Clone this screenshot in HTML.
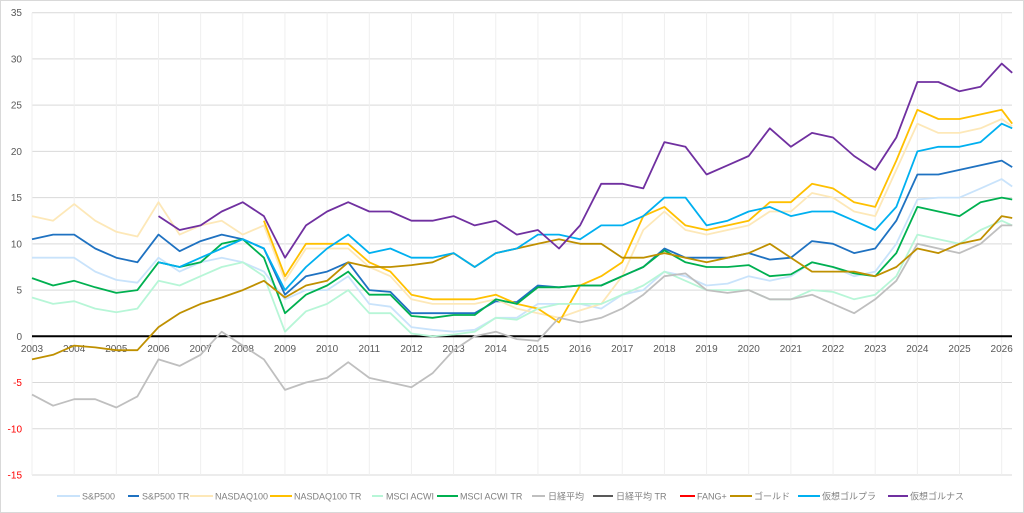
<!DOCTYPE html>
<html><head><meta charset="utf-8"><style>
body{margin:0;background:#fff;}
svg{display:block;font-family:"Liberation Sans","Noto Sans CJK JP",sans-serif;}
</style></head><body>
<svg id="chart" width="1024" height="513">
<rect x="0.5" y="0.5" width="1023" height="512" fill="#fff" stroke="#d9d9d9"/>
<g id="grid"></g>
<g id="axes"></g>
<g id="series"></g>
<g id="legend"></g>
</svg>
<script>
const yTicks=[35,30,25,20,15,10,5,0,-5,-10,-15];
const yearTicks=[2003,2004,2005,2006,2007,2008,2009,2010,2011,2012,2013,2014,2015,2016,2017,2018,2019,2020,2021,2022,2023,2024,2025,2026];
const seriesNames=["S&P500","S&P500 TR","NASDAQ100","NASDAQ100 TR","MSCI ACWI","MSCI ACWI TR","日経平均","日経平均 TR","FANG+","ゴールド","仮想ゴルプラ","仮想ゴルナス"];
const times=[2003,2003.5,2004,2004.5,2005,2005.5,2006,2006.5,2007,2007.5,2008,2008.5,2009,2009.5,2010,2010.5,2011,2011.5,2012,2012.5,2013,2013.5,2014,2014.5,2015,2015.5,2016,2016.5,2017,2017.5,2018,2018.5,2019,2019.5,2020,2020.5,2021,2021.5,2022,2022.5,2023,2023.5,2024,2024.5,2025,2025.5,2026,2026.25];
const sp500=[8.5,8.5,8.5,7,6.1,5.8,8.5,7,8,8.5,8,7,4,5,5,6.5,3.5,3.2,1,0.7,0.5,0.7,2,2,3.5,3.5,3.5,3,4.5,5,7,6.5,5.5,5.7,6.5,6,6.5,8,7.5,6.5,7,10,14.8,15,15,16,17,16.2];
const sp500tr=[10.5,11,11,9.5,8.5,8,11,9.2,10.3,11,10.5,9.5,4.5,6.5,7,8,5,4.8,2.5,2.5,2.5,2.5,3.8,3.7,5.5,5.3,5.5,5.5,6.5,7.5,9.5,8.5,8.5,8.5,9,8.3,8.5,10.3,10,9,9.5,12.5,17.5,17.5,18,18.5,19,18.3];
const nasdaq=[13,12.5,14.3,12.5,11.3,10.8,14.5,11,12,12.5,11,12,6,9.5,9.5,9.5,7.5,6.5,4,3.5,3.5,3.5,4,3,2.5,2,2.8,3.5,6.5,11.5,13.5,11.5,11,11.5,12,13.5,13.5,15.5,15,13.5,13,18,23,22,22,22.5,23.5,22.7];
const nasdaqtr=[null,null,null,null,null,null,null,null,null,null,null,12.5,6.5,10,10,10,8,7,4.5,4,4,4,4.5,3.5,3,1.5,5.5,6.5,8,13,14,12,11.5,12,12.5,14.5,14.5,16.5,16,14.5,14,19,24.5,23.5,23.5,24,24.5,23];
const acwi=[4.2,3.5,3.8,3,2.6,3,6,5.5,6.5,7.5,8,6.5,0.5,2.7,3.5,5,2.5,2.5,0.3,0,0.2,0.5,2,1.8,3,3.5,3.5,3.5,4.5,5.5,7,6,5,5,5,4,4,5,4.8,4,4.5,6.5,11,10.5,10,11.5,12.5,12];
const acwitr=[6.3,5.5,6,5.3,4.7,5,8,7.5,8,10,10.5,8.5,2.5,4.5,5.5,7,4.5,4.5,2.2,2,2.3,2.3,4,3.5,5.3,5.3,5.5,5.5,6.5,7.5,9.3,8,7.5,7.5,7.7,6.5,6.7,8,7.5,6.8,6.5,9,14,13.5,13,14.5,15,14.8];
const nikkei=[-6.3,-7.5,-6.8,-6.8,-7.7,-6.5,-2.5,-3.2,-2,0.5,-1,-2.5,-5.8,-5,-4.5,-2.8,-4.5,-5,-5.5,-4,-1.5,0,0.5,-0.3,-0.5,2,1.5,2,3,4.5,6.5,6.8,5,4.7,5,4,4,4.5,3.5,2.5,4,6,10,9.5,9,10,12,12];
const gold=[-2.5,-2,-1,-1.2,-1.5,-1.5,1,2.5,3.5,4.2,5,6,4.2,5.5,6,8,7.5,7.5,7.7,8,9,7.5,9,9.5,10,10.5,10,10,8.5,8.5,9,8.5,8,8.5,9,10,8.5,7,7,7,6.5,7.5,9.5,9,10,10.5,13,12.8];
const golpla=[null,null,null,null,null,null,8,7.5,8.5,9.5,10.5,9.5,5,7.5,9.5,11,9,9.5,8.5,8.5,9,7.5,9,9.5,11,11,10.5,12,12,13,15,15,12,12.5,13.5,14,13,13.5,13.5,12.5,11.5,14,20,20.5,20.5,21,23,22.5];
const golnas=[null,null,null,null,null,null,13,11.5,12,13.5,14.5,13,8.5,12,13.5,14.5,13.5,13.5,12.5,12.5,13,12,12.5,11,11.5,9.5,12,16.5,16.5,16,21,20.5,17.5,18.5,19.5,22.5,20.5,22,21.5,19.5,18,21.5,27.5,27.5,26.5,27,29.5,28.5];

const colors=["#c9e3fb","#1f72c1","#fde8b8","#ffc000","#b7f6d7","#00b050","#bfbfbf","#595959","#ff0000","#bf9000","#00b0f0","#7030a0"];
const seriesData=[sp500,sp500tr,nasdaq,nasdaqtr,acwi,acwitr,nikkei,null,null,gold,golpla,golnas];
const NS="http://www.w3.org/2000/svg";
const X0=32,X1=1012,Y0=12.7,Y1=475;
const xs=t=>X0+(t-2003)*42.16;
const ys=v=>Y0+(35-v)*(Y1-Y0)/50;
function mk(tag,attrs,parent){const e=document.createElementNS(NS,tag);for(const k in attrs)e.setAttribute(k,attrs[k]);parent.appendChild(e);return e;}
const grid=document.getElementById('grid'),axes=document.getElementById('axes'),ser=document.getElementById('series'),leg=document.getElementById('legend');
yTicks.forEach(v=>{
 const l=mk('line',{x1:X0,x2:X1,y1:ys(v),y2:ys(v),stroke:'#d9d9d9','stroke-width':1},grid);
 
 
 const t=mk('text',{x:22,y:ys(v)+3.5,'text-anchor':'end','font-size':10,fill:v<0?'#ff0000':'#595959'},axes);
 t.textContent=v;
 
 
});
yearTicks.forEach(y=>{
 const l=mk('line',{x1:xs(y),x2:xs(y),y1:Y0,y2:Y1,stroke:'#efefef','stroke-width':1},grid);
 
 
 const t=mk('text',{x:xs(y),y:352,'text-anchor':'middle','font-size':10,fill:'#595959'},axes);
 t.textContent=y;
 
 
});
seriesData.forEach((d,i)=>{
 if(!d)return;
 let pts=[];
 d.forEach((v,j)=>{if(v!==null)pts.push(xs(times[j]).toFixed(1)+','+ys(v).toFixed(1));});
 const p=mk('polyline',{points:pts.join(' '),fill:'none',stroke:colors[i],'stroke-width':1.8,'stroke-linejoin':'round'},ser);
 
 
});
const zl=mk('line',{x1:X0,x2:X1,y1:ys(0),y2:ys(0),stroke:'#000','stroke-width':2},axes);


const legL=[[57,80,82],[128,139,142],[190,213,215],[270,292,294],[372,383,386],[437,458,460],[532,545,548],[593,613,616],[680,695,697],[730,752,754],[798,820,822],[888,908,910]];
seriesNames.forEach((n,i)=>{
 const g=mk('g',{},leg);
 
 
 mk('line',{x1:legL[i][0],x2:legL[i][1],y1:496,y2:496,stroke:colors[i],'stroke-width':2},g);
 const t=mk('text',{x:legL[i][2],y:499.5,'font-size':9,fill:'#7f7f7f'},g);
 t.textContent=n;
});
</script>
</body></html>
